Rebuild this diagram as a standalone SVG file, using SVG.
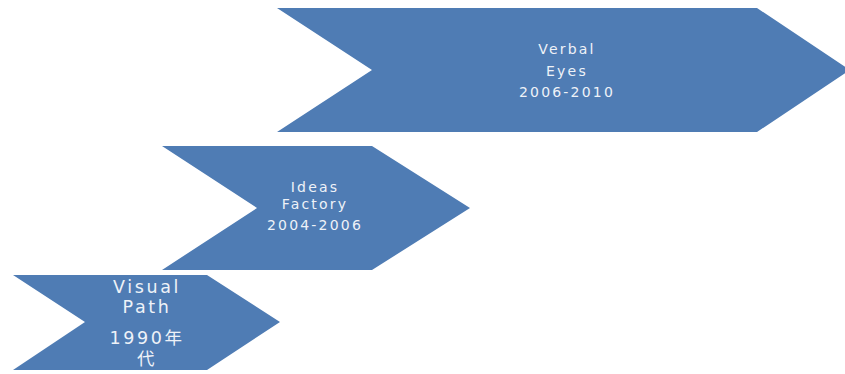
<svg xmlns="http://www.w3.org/2000/svg" width="845" height="374" viewBox="0 0 845 374">
  <style>
    .chev { fill: #4f7cb4; }
    .lbl { fill: #eef2f8; font-family: "DejaVu Sans", "Noto Sans CJK SC", sans-serif; text-anchor: middle; }
    .sm { font-size: 14px; letter-spacing: 2.2px; }
    .lg { font-size: 17.5px; letter-spacing: 2.6px; }
  </style>
  <rect width="845" height="374" fill="#ffffff"/>

  <!-- stage 3: top, widest chevron -->
  <g id="stage-verbal-eyes">
    <polygon class="chev" points="277,8 757,8 850,70 757,132 277,132 372,70"/>
    <text class="lbl sm" x="567" y="54">Verbal</text>
    <text class="lbl sm" x="567" y="76">Eyes</text>
    <text class="lbl sm" x="567" y="97">2006-2010</text>
  </g>

  <!-- stage 2: middle chevron -->
  <g id="stage-ideas-factory">
    <polygon class="chev" points="162,146 372,146 470,208 372,270 162,270 257,208"/>
    <text class="lbl sm" x="315" y="192">Ideas</text>
    <text class="lbl sm" x="315" y="209">Factory</text>
    <text class="lbl sm" x="315" y="230">2004-2006</text>
  </g>

  <!-- stage 1: bottom chevron -->
  <g id="stage-visual-path">
    <polygon class="chev" points="13,275 207,275 280,322 207,370 13,370 85,322"/>
    <text class="lbl lg" x="147" y="293">Visual</text>
    <text class="lbl lg" x="147" y="313">Path</text>
    <text class="lbl lg" x="147" y="344">1990年</text>
    <text class="lbl lg" x="147" y="365">代</text>
  </g>

  <g id="connectors"/>
</svg>
